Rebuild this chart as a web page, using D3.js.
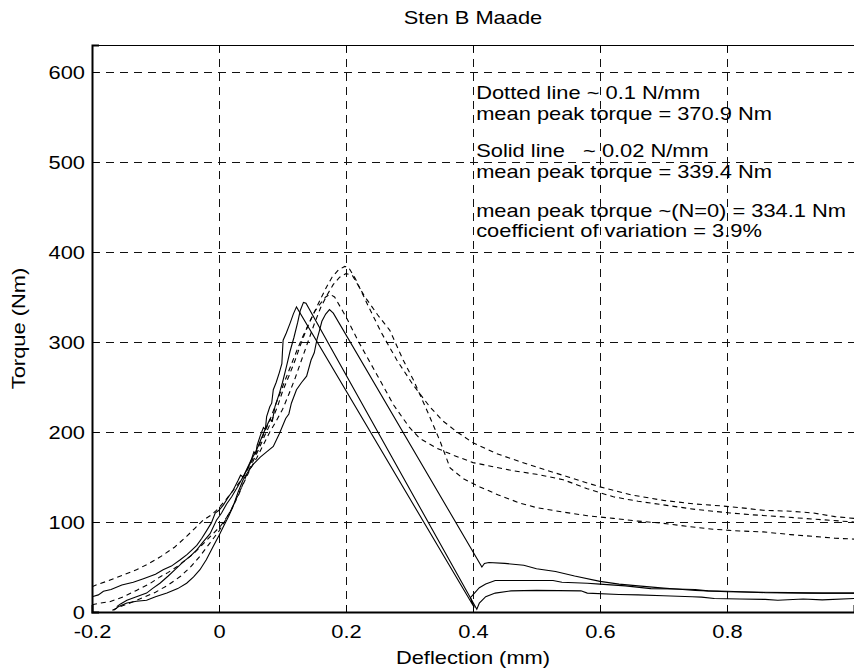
<!DOCTYPE html>
<html lang="en">
<head>
    <meta charset="UTF-8">
    <title>Sten B Maade</title>
    <style>
        body { margin: 0; background: #fff; }
        text { font-family: "Liberation Sans", Arial, sans-serif; fill: #000; }
    </style>
</head>
<body>
    <script src="https://d3js.org/d3.v7.min.js"></script>
    <script>
        const w = 854;
        const h = 670;
        const padL = 92, padR = 0, padT = 45, padB = 58;
        const fontSize = 19;
        const stretch = 1.15;   // the reference text is a bit wider than Helvetica

        // tick values
        const xTicks = [-0.2, 0, 0.2, 0.4, 0.6, 0.8];
        const yTicks = [0, 100, 200, 300, 400, 500, 600];

        // solid curves (~0.02 N/mm), [deflection mm, torque Nm]
        const solidA = [[-0.2,17],[-0.19,19],[-0.182,23],[-0.17,25],[-0.153,30],[-0.135,33],[-0.119,37],[-0.1,42],[-0.088,47],[-0.075,51],[-0.061,58],[-0.05,64],[-0.035,74],[-0.027,82],[-0.019,91],[-0.012,99],[-0.006,110],[0.0,113],[0.007,119],[0.015,128],[0.022,135],[0.03,146],[0.034,152],[0.038,150],[0.044,158],[0.049,165],[0.055,178],[0.058,176],[0.06,185],[0.065,196],[0.07,205],[0.073,203],[0.075,217],[0.08,228],[0.083,232],[0.0855,247],[0.09,255],[0.095,266],[0.099,276],[0.1,290],[0.101,302],[0.106,310],[0.112,321],[0.117,331],[0.122,339],[0.402,5],[0.396,16],[0.41,27],[0.42,31],[0.435,35],[0.47,35],[0.526,35],[0.54,33],[0.58,32],[0.6,31],[0.64,29],[0.68,26],[0.72,25.5],[0.75,25],[0.77,23.5],[0.8,23],[0.86,21.5],[0.93,21],[1.0,21]];
        const solidB = [[-0.161,6],[-0.155,9],[-0.145,13],[-0.13,17],[-0.114,21],[-0.105,26],[-0.093,32],[-0.08,40],[-0.068,48],[-0.056,56],[-0.045,62],[-0.035,69],[-0.025,78],[-0.014,87],[-0.004,102],[0.004,110],[0.012,120],[0.02,128],[0.03,140],[0.04,153],[0.05,168],[0.058,178],[0.065,190],[0.072,202],[0.08,214],[0.084,212],[0.088,228],[0.095,243],[0.1,255],[0.106,272],[0.112,290],[0.118,305],[0.124,322],[0.128,335],[0.133,344],[0.137,343],[0.406,3],[0.41,10],[0.42,17],[0.435,21],[0.46,23.5],[0.5,24],[0.57,23.5],[0.58,21],[0.63,19.5],[0.66,19],[0.7,18],[0.745,17],[0.76,16.5],[0.78,15],[0.82,14.5],[0.86,14],[0.88,13],[0.92,14.5],[0.95,13.5],[1.0,15]];
        const solidC = [[-0.166,2],[-0.158,6],[-0.145,10],[-0.13,12],[-0.114,13],[-0.1,17],[-0.082,21],[-0.065,26],[-0.051,32],[-0.04,39],[-0.03,47],[-0.02,58],[-0.009,73],[0.0,85],[0.007,95],[0.015,106],[0.022,117],[0.03,133],[0.038,147],[0.045,155],[0.055,165],[0.065,172],[0.075,178],[0.0855,184],[0.095,198],[0.105,215],[0.11,220],[0.114,232],[0.122,247],[0.13,255],[0.138,262],[0.145,280],[0.15,288],[0.154,302],[0.158,312],[0.162,323],[0.168,331],[0.174,336],[0.18,332],[0.414,50],[0.418,54],[0.425,55],[0.45,54],[0.48,52],[0.5,48],[0.53,45],[0.56,40],[0.6,34],[0.63,31],[0.66,29],[0.7,26.5],[0.73,25],[0.75,24],[0.8,22.5],[0.85,22],[0.9,21.5],[0.95,21],[1.0,21]];

        // dotted curves (~0.1 N/mm)
        const dashA = [[-0.2,28],[-0.19,31],[-0.177,34],[-0.155,40],[-0.13,47],[-0.11,54],[-0.093,61],[-0.07,72],[-0.051,84],[-0.038,93],[-0.025,102],[-0.012,108],[-0.004,113],[0.01,124],[0.02,133],[0.03,142],[0.04,152],[0.05,165],[0.06,180],[0.07,197],[0.08,213],[0.09,232],[0.1,250],[0.11,268],[0.12,286],[0.13,303],[0.14,318],[0.15,333],[0.16,348],[0.17,362],[0.178,372],[0.188,380],[0.198,384],[0.204,383],[0.215,370],[0.235,340],[0.256,310],[0.28,280],[0.306,252],[0.332,228],[0.353,212],[0.375,200],[0.4,188],[0.437,176],[0.47,168],[0.505,160],[0.55,150],[0.6,139],[0.65,130],[0.7,124],[0.75,120],[0.789,118],[0.82,116],[0.857,113],[0.9,112],[0.936,110],[0.97,106],[1.0,104]];
        const dashB = [[-0.2,8],[-0.186,10],[-0.172,11.5],[-0.15,17],[-0.13,24],[-0.11,31],[-0.093,39],[-0.08,44],[-0.067,50],[-0.054,57],[-0.04,65],[-0.03,72],[-0.019,80],[-0.008,88],[0.002,95],[0.012,105],[0.022,117],[0.032,132],[0.042,150],[0.052,165],[0.062,180],[0.072,196],[0.082,211],[0.092,228],[0.1,245],[0.11,262],[0.12,280],[0.13,300],[0.14,318],[0.15,333],[0.16,343],[0.168,350],[0.175,353],[0.182,350],[0.2,328],[0.22,300],[0.25,262],[0.275,230],[0.3,205],[0.316,193],[0.343,182],[0.37,174],[0.4,166],[0.435,161],[0.463,157],[0.5,153],[0.542,147],[0.58,137],[0.621,128],[0.66,123],[0.7,119],[0.75,114],[0.805,110],[0.84,108],[0.883,106],[0.94,103],[1.0,100]];
        const dashC = [[-0.168,2],[-0.155,6],[-0.14,10],[-0.12,16],[-0.1,22],[-0.08,30],[-0.06,40],[-0.045,50],[-0.03,62],[-0.015,76],[0.0,90],[0.01,102],[0.02,115],[0.03,130],[0.04,145],[0.05,160],[0.06,172],[0.07,186],[0.08,200],[0.09,212],[0.1,225],[0.11,242],[0.12,260],[0.13,280],[0.14,300],[0.15,320],[0.16,338],[0.17,352],[0.18,364],[0.19,372],[0.2,376],[0.21,374],[0.23,350],[0.25,330],[0.269,313],[0.29,280],[0.306,258],[0.33,220],[0.348,190],[0.364,160],[0.385,148],[0.411,139],[0.44,130],[0.474,121],[0.5,116],[0.542,111],[0.58,107],[0.621,104],[0.66,101],[0.7,98.5],[0.74,95],[0.778,92],[0.82,90],[0.857,89],[0.9,86],[0.936,84],[0.97,82],[1.0,81]];

        // annotation lines, anchored in data coordinates
        const notes = [
            [0.405, 570, 'Dotted line ~ 0.1 N/mm'],
            [0.405, 547, 'mean peak torque = 370.9 Nm'],
            [0.405, 506, 'Solid line   ~ 0.02 N/mm'],
            [0.405, 482, 'mean peak torque = 339.4 Nm'],
            [0.405, 439, 'mean peak torque ~(N=0) = 334.1 Nm'],
            [0.405, 417, 'coefficient of variation = 3.9%']
        ];

        const xScale = d3.scaleLinear().domain([-0.2, 1.0]).range([padL, w - padR]);
        const yScale = d3.scaleLinear().domain([0, 630]).range([h - padB, padT]);

        const svg = d3.select('body').append('svg')
            .attr('width', w)
            .attr('height', h);

        svg.append('defs').append('clipPath').attr('id', 'plot')
            .append('rect')
            .attr('x', padL).attr('y', padT)
            .attr('width', w - padL - padR).attr('height', h - padT - padB);

        // dashed grid
        const grid = svg.append('g').attr('stroke', '#111').attr('stroke-width', 1).attr('stroke-dasharray', '8,6');
        grid.selectAll('.vg').data(xTicks.slice(1)).enter().append('line')
            .attr('x1', d => Math.round(xScale(d)) + 0.5).attr('x2', d => Math.round(xScale(d)) + 0.5)
            .attr('y1', padT).attr('y2', h - padB);
        grid.selectAll('.hg').data(yTicks.slice(1)).enter().append('line')
            .attr('x1', padL).attr('x2', w - padR)
            .attr('y1', d => Math.round(yScale(d)) + 0.5).attr('y2', d => Math.round(yScale(d)) + 0.5);

        // curves
        const line = d3.line().x(d => xScale(d[0])).y(d => yScale(d[1]));
        const curves = svg.append('g').attr('clip-path', 'url(#plot)').attr('fill', 'none').attr('stroke', '#000');
        [solidA, solidB, solidC].forEach(c => {
            curves.append('path').attr('d', line(c)).attr('stroke-width', 1.1);
        });
        [dashA, dashB, dashC].forEach(c => {
            curves.append('path').attr('d', line(c)).attr('stroke-width', 1.1).attr('stroke-dasharray', '5,4');
        });

        // axes, ticks pointing inwards; plain hyphen for the minus like the original
        const xAxis = d3.axisBottom(xScale).tickValues(xTicks).tickSize(-7).tickPadding(13)
            .tickFormat(d => d === 0 ? '0' : d.toFixed(1));
        const yAxis = d3.axisLeft(yScale).tickValues(yTicks).tickSize(-7).tickPadding(7);
        const topAxis = d3.axisTop(xScale).tickValues(xTicks).tickSize(-7).tickFormat('');

        svg.append('g').attr('transform', `translate(0, ${h - padB})`).call(xAxis)
            .call(g => g.select('.domain').attr('stroke-width', 2));
        svg.append('g').attr('transform', `translate(${padL}, 0)`).call(yAxis)
            .call(g => g.select('.domain').attr('stroke-width', 2));
        svg.append('g').attr('transform', `translate(0, ${padT})`).call(topAxis);

        svg.selectAll('.tick text').attr('font-size', fontSize).attr('font-family', '"Liberation Sans", Arial, sans-serif');

        // labels
        svg.append('text').attr('x', xScale(0.4)).attr('y', 24).attr('text-anchor', 'middle')
            .attr('font-size', fontSize).text('Sten B Maade');
        svg.append('text').attr('x', xScale(0.4)).attr('y', 664).attr('text-anchor', 'middle')
            .attr('font-size', fontSize).text('Deflection (mm)');
        svg.append('text').attr('transform', `translate(25, ${(padT + h - padB) / 2}) rotate(-90)`)
            .attr('text-anchor', 'middle').attr('font-size', fontSize).text('Torque (Nm)');

        svg.append('g').selectAll('text').data(notes).enter().append('text')
            .attr('x', d => xScale(d[0])).attr('y', d => yScale(d[1]))
            .attr('font-size', fontSize).style('white-space', 'pre')
            .text(d => d[2]);

        // widen all the text a little
        svg.selectAll('text').each(function () {
            const len = this.getComputedTextLength();
            if (len > 0) d3.select(this).attr('textLength', len * stretch).attr('lengthAdjust', 'spacingAndGlyphs');
        });
    </script>
</body>
</html>
